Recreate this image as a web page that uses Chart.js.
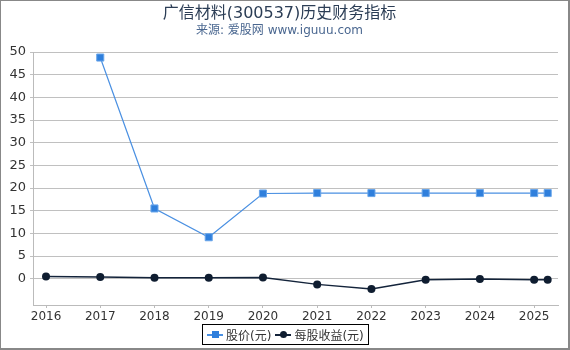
<!DOCTYPE html>
<html><head><meta charset="utf-8">
<script src="https://cdn.jsdelivr.net/npm/chart.js@4"></script>
<style>
html,body{margin:0;padding:0;background:#fff;}
#wrap{position:relative;width:570px;height:350px;box-sizing:border-box;border-top:1px solid #888;border-left:1px solid #888;border-right:2px solid #888;border-bottom:2px solid #888;}
#c{position:absolute;left:0;top:0;}
#legend{position:absolute;left:201px;top:323px;height:21px;box-sizing:border-box;border:1px solid #000;padding:0 4px;display:flex;align-items:center;font:12px "DejaVu Sans","Noto Sans CJK SC",sans-serif;color:#333;white-space:nowrap;}
.item{display:flex;align-items:center;margin-right:4px;}
.item:last-child{margin-right:0}
.sym{position:relative;width:16px;height:10px;margin-right:3px;}
.sym .ln{position:absolute;left:0;right:0;top:4.5px;height:1.5px;}
.sym .mk{position:absolute;left:4.5px;top:1.5px;width:7px;height:7px;}
</style></head>
<body>
<div id="wrap">
<canvas id="c" width="567" height="347"></canvas>
<div id="legend">
 <div class="item"><div class="sym"><div class="ln" style="background:#4a90e2"></div><div class="mk" style="background:#2f7fdc"></div></div>股价(元)</div>
 <div class="item"><div class="sym"><div class="ln" style="background:#13233a"></div><div class="mk" style="background:#0f1d30;border-radius:50%"></div></div>每股收益(元)</div>
</div>
</div>
<script>
const years = [2016, 2017, 2018, 2019, 2020, 2021, 2022, 2023, 2024, 2025, 2025.25];
const tickYears = [2016, 2017, 2018, 2019, 2020, 2021, 2022, 2023, 2024, 2025];
const price = [null, 48.8, 15.5, 9.15, 18.8, 18.9, 18.9, 18.9, 18.9, 18.9, 18.9];
const eps = [0.5, 0.37, 0.22, 0.22, 0.29, -1.25, -2.27, -0.22, -0.07, -0.22, -0.22];
const yTicks = [0, 5, 10, 15, 20, 25, 30, 35, 40, 45, 50];

const font = '"DejaVu Sans","Noto Sans CJK SC",sans-serif';
const pts = arr => years.map((x, i) => ({x, y: arr[i]})).filter(p => p.y !== null);

new Chart(document.getElementById('c'), {
  type: 'line',
  data: {
    datasets: [
      {label: '股价(元)', data: pts(price), borderColor: '#4a90e2', backgroundColor: '#2f7fdc',
       borderWidth: 1.2, pointStyle: 'rect', pointRadius: 5, pointBorderColor: '#6aa6ea', pointBorderWidth: 1, tension: 0},
      {label: '每股收益(元)', data: pts(eps), borderColor: '#13233a', backgroundColor: '#0f1d30',
       borderWidth: 1.5, pointStyle: 'circle', pointRadius: 4, pointBorderWidth: 0, tension: 0}
    ]
  },
  options: {
    responsive: false, animation: false,
    layout: {padding: {left: 0, right: 10, top: 0, bottom: 23}},
    plugins: {
      legend: {display: false}, tooltip: {enabled: false},
      title: {display: true, text: '广信材料(300537)历史财务指标', color: '#2b3d55',
        font: {family: font, size: 16, weight: 'normal'}, padding: {top: 3, bottom: 0}},
      subtitle: {display: true, text: '来源: 爱股网 www.iguuu.com', color: '#4a6790',
        font: {family: font, size: 12, weight: 'normal'}, padding: {top: 0, bottom: 14.5}}
    },
    scales: {
      x: {type: 'linear', min: 2015.76, max: 2025.44,
        afterBuildTicks: s => { s.ticks = tickYears.map(v => ({value: v})); },
        afterFit: s => { s.height = 20; },
        ticks: {color: '#333', font: {family: font, size: 12}, padding: 2, maxRotation: 0, autoSkip: false,
          callback: v => String(v)},
        grid: {drawOnChartArea: false, drawTicks: true, tickLength: 3, color: '#bbb'},
        border: {display: true, color: '#bbb'}},
      y: {min: -5.8, max: 50,
        afterBuildTicks: s => { s.ticks = yTicks.map(v => ({value: v})); },
        afterFit: s => { s.width = 32; },
        ticks: {color: '#333', font: {family: font, size: 13}, padding: 4},
        grid: {color: '#c0c0c0', drawTicks: true, tickLength: 3},
        border: {display: true, color: '#bbb'}}
    }
  }
});
</script>
</body></html>
